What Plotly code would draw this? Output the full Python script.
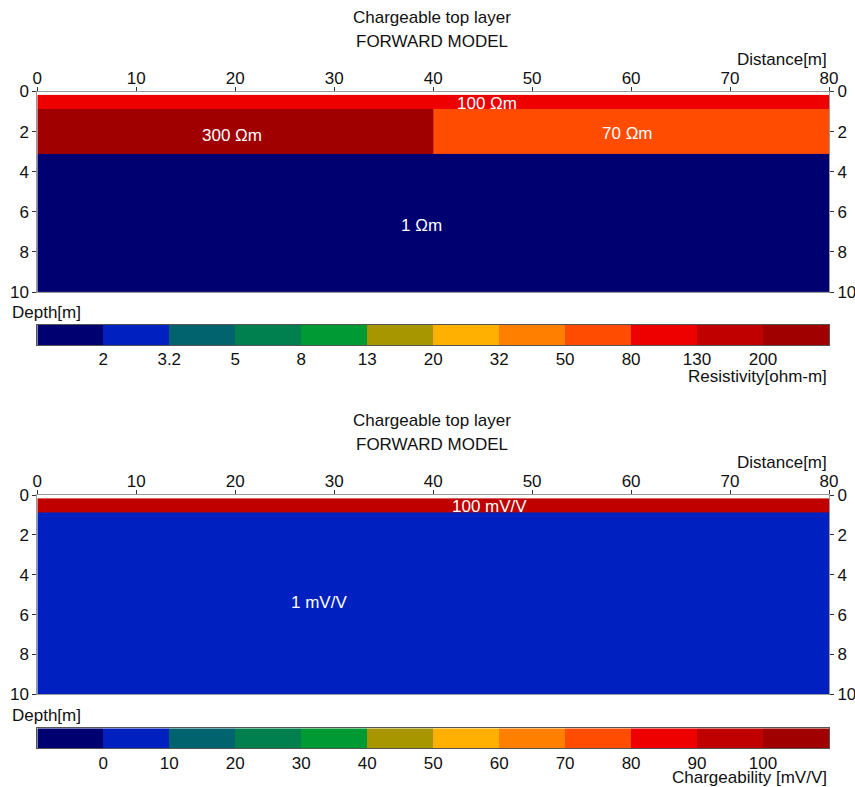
import numpy as np
import plotly.graph_objects as go

W, H = 855, 787

# ---------------- data ----------------
dist_edges = [0, 40, 80]                     # m, model block edges along profile
depth_edges = [0.17, 0.89, 3.1, 10]          # m, layer edges
res_values = [[100, 100], [300, 70], [1, 1]]  # ohm-m per block (rows = layers)
chg_values = [[100, 100], [1, 1], [1, 1]]     # mV/V per block

res_bounds = [2, 3.2, 5, 8, 13, 20, 32, 50, 80, 130, 200]
res_ticklabels = ["2", "3.2", "5", "8", "13", "20", "32", "50", "80", "130", "200"]
chg_bounds = [0, 10, 20, 30, 40, 50, 60, 70, 80, 90, 100]
chg_ticklabels = ["0", "10", "20", "30", "40", "50", "60", "70", "80", "90", "100"]

palette = ["#000070", "#0020BF", "#00636E", "#00804F", "#009A35", "#A89600",
           "#FFB000", "#FF8000", "#FF4C00", "#EE0000", "#C00000", "#A00000"]

res_labels = [("100 \u03a9m", 45.4, 0.62), ("300 \u03a9m", 19.7, 2.2),
              ("70 \u03a9m", 59.6, 2.07), ("1 \u03a9m", 38.8, 6.7)]
chg_labels = [("100 mV/V", 45.7, 0.6), ("1 mV/V", 28.5, 5.37)]

titles = ["Chargeable top layer", "FORWARD MODEL"]

# ---------------- helpers ----------------
n = len(palette)
cscale = []
for i, c in enumerate(palette):
    cscale.append([i / n, c])
    cscale.append([(i + 1) / n, c])


def to_bin(vals, bounds):
    return np.searchsorted(np.array(bounds), np.array(vals, dtype=float), side="left")


def px(x):
    return x / W


def py(y):
    return 1 - y / H


FONT = "Liberation Sans, Arial, sans-serif"
FS = 17
LINE = "#9a9a9a"

fig = go.Figure()

# model heatmaps
fig.add_trace(go.Heatmap(x=dist_edges, y=depth_edges, z=to_bin(res_values, res_bounds),
                         colorscale=cscale, zmin=-0.5, zmax=n - 0.5, showscale=False,
                         xaxis="x", yaxis="y", hoverinfo="skip"))
fig.add_trace(go.Heatmap(x=dist_edges, y=depth_edges, z=to_bin(chg_values, chg_bounds),
                         colorscale=cscale, zmin=-0.5, zmax=n - 0.5, showscale=False,
                         xaxis="x3", yaxis="y3", hoverinfo="skip"))

# colour bars as heatmaps
bins = list(range(n + 1))
fig.add_trace(go.Heatmap(x=bins, y=[0, 1], z=[list(range(n))], colorscale=cscale,
                         zmin=-0.5, zmax=n - 0.5, showscale=False,
                         xaxis="x2", yaxis="y2", hoverinfo="skip"))
fig.add_trace(go.Heatmap(x=bins, y=[0, 1], z=[list(range(n))], colorscale=cscale,
                         zmin=-0.5, zmax=n - 0.5, showscale=False,
                         xaxis="x4", yaxis="y4", hoverinfo="skip"))

xdom = [px(37.3), px(829)]
model_doms = {"y": [py(292), py(91.5)], "y3": [py(694.3), py(495)]}
cbar_doms = {"y2": [py(345), py(325)], "y4": [py(748.3), py(728.3)]}

tickfont = dict(family=FONT, size=FS, color="#111")

model_x = dict(domain=xdom, range=[0, 80], side="top", tickmode="array",
               tickvals=list(range(0, 81, 10)), ticks="outside", ticklen=4,
               tickcolor="#333", showline=True, linecolor=LINE, linewidth=1,
               mirror=True, showgrid=False, zeroline=False, tickfont=tickfont,
               ticklabelstandoff=-4, automargin=False)
model_y = dict(range=[10, 0], tickmode="array", tickvals=[0, 2, 4, 6, 8, 10],
               ticks="outside", ticklen=4, tickcolor="#333", showline=True,
               linecolor=LINE, linewidth=1, mirror=True, showgrid=False,
               zeroline=False, tickfont=tickfont, ticklabelstandoff=0,
               automargin=False)

cbar_x = dict(domain=xdom, range=[0, n], tickmode="array", ticks="",
              showline=True, linecolor="#555", linewidth=1, mirror=True,
              showgrid=False, zeroline=False, tickfont=tickfont,
              ticklabelstandoff=-1, automargin=False)
cbar_y = dict(range=[0, 1], showticklabels=False, ticks="", showline=True,
              linecolor="#555", linewidth=1, mirror=True, showgrid=False,
              zeroline=False, automargin=False)

layout = dict(
    width=W, height=H, margin=dict(l=0, r=0, t=0, b=0, autoexpand=False),
    paper_bgcolor="white", plot_bgcolor="white", showlegend=False,
    xaxis=dict(model_x, anchor="y"),
    yaxis=dict(model_y, domain=model_doms["y"], anchor="x"),
    yaxis5=dict(model_y, domain=model_doms["y"], anchor="x", overlaying="y",
                side="right", matches="y", showline=False),
    xaxis3=dict(model_x, anchor="y3"),
    yaxis3=dict(model_y, domain=model_doms["y3"], anchor="x3"),
    yaxis6=dict(model_y, domain=model_doms["y3"], anchor="x3", overlaying="y3",
                side="right", matches="y3", showline=False),
    xaxis2=dict(cbar_x, anchor="y2", tickvals=list(range(1, n)), ticktext=res_ticklabels),
    yaxis2=dict(cbar_y, domain=cbar_doms["y2"], anchor="x2"),
    xaxis4=dict(cbar_x, anchor="y4", tickvals=list(range(1, n)), ticktext=chg_ticklabels),
    yaxis4=dict(cbar_y, domain=cbar_doms["y4"], anchor="x4"),
)
fig.update_layout(**layout)

# invisible helper traces so the right-hand depth axes render
fig.add_trace(go.Scatter(x=[None], y=[None], xaxis="x", yaxis="y5", mode="markers",
                         hoverinfo="skip", showlegend=False))
fig.add_trace(go.Scatter(x=[None], y=[None], xaxis="x3", yaxis="y6", mode="markers",
                         hoverinfo="skip", showlegend=False))

ann = []
txt = dict(family=FONT, size=FS, color="#111")
for off in (0, 403.5):
    ann.append(dict(x=px(432), y=py(17.5 + off), xref="paper", yref="paper",
                    text=titles[0], showarrow=False, font=txt,
                    xanchor="center", yanchor="middle"))
    ann.append(dict(x=px(432), y=py(41 + off), xref="paper", yref="paper",
                    text=titles[1], showarrow=False, font=txt,
                    xanchor="center", yanchor="middle"))
    ann.append(dict(x=px(829), y=py(59 + off), xref="paper", yref="paper",
                    text="Distance[m]", showarrow=False, font=txt,
                    xanchor="right", yanchor="middle"))
    ann.append(dict(x=px(10), y=py(312 + off), xref="paper", yref="paper",
                    text="Depth[m]", showarrow=False, font=txt,
                    xanchor="left", yanchor="middle"))
ann.append(dict(x=px(829), y=py(376), xref="paper", yref="paper",
                text="Resistivity[ohm-m]", showarrow=False, font=txt,
                xanchor="right", yanchor="middle"))
ann.append(dict(x=px(829), y=py(777.5), xref="paper", yref="paper",
                text="Chargeability [mV/V]", showarrow=False, font=txt,
                xanchor="right", yanchor="middle"))

wfont = dict(family=FONT, size=FS, color="white")
for t, xv, yv in res_labels:
    ann.append(dict(x=xv, y=yv, xref="x", yref="y", text=t, showarrow=False,
                    font=wfont, xanchor="center", yanchor="middle"))
for t, xv, yv in chg_labels:
    ann.append(dict(x=xv, y=yv, xref="x3", yref="y3", text=t, showarrow=False,
                    font=wfont, xanchor="center", yanchor="middle"))
fig.update_layout(annotations=ann)

fig.write_html("out.html", config={"displayModeBar": False},
               post_script="document.body.style.margin='0';"
                           "document.body.style.overflow='hidden';")
